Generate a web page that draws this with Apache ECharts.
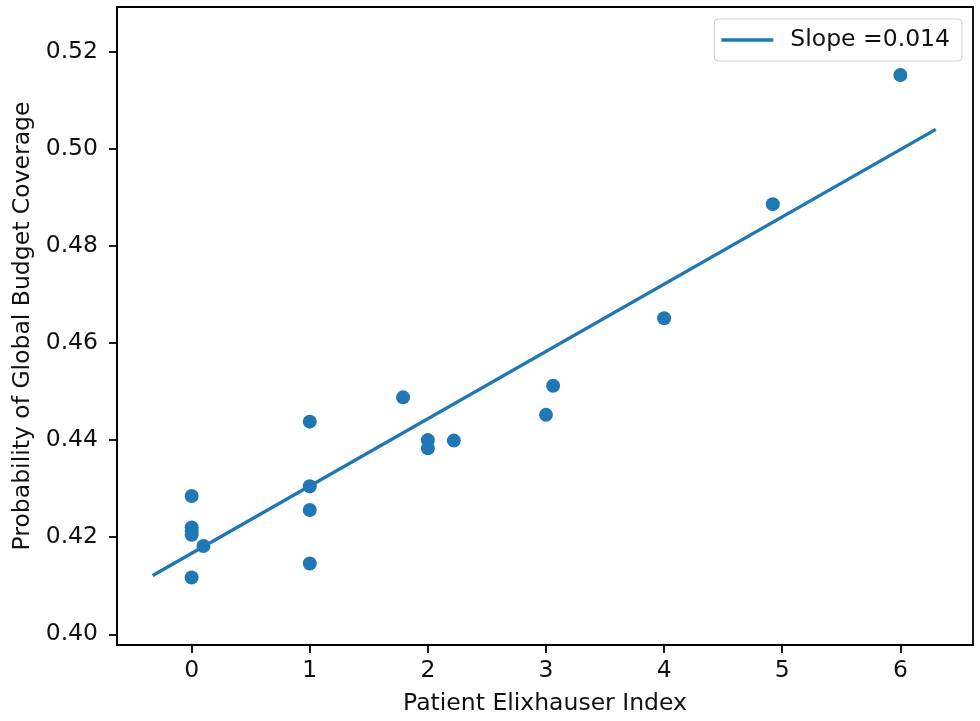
<!DOCTYPE html>
<html>
<head>
<meta charset="utf-8">
<script src="https://cdn.jsdelivr.net/npm/echarts@6/dist/echarts.min.js"></script>
<style>
html,body{margin:0;padding:0;background:#fff;}
#chart{width:980px;height:721px;}
</style>
</head>
<body>
<div id="chart"></div>
<script>
// Scatter points (Patient Elixhauser Index vs probability)
const pointX = [0, 0, 0, 0, 0.1, 0, 1, 1, 1, 1, 1.79, 2, 2, 2.22, 3, 3.06, 4, 4.92, 6];
const pointY = [0.4285, 0.4220, 0.4213, 0.4205, 0.4182, 0.4117, 0.4438, 0.4305, 0.4256, 0.4146, 0.4488, 0.4400, 0.4383, 0.4399, 0.4452, 0.4512, 0.4651, 0.4886, 0.5152];
// Fitted line endpoints
const fitX = [-0.33, 6.3];
const fitY = [0.4121, 0.5040];
const fitName = 'Slope =0.014';
// Tick labels
const xTicks = [0, 1, 2, 3, 4, 5, 6];
const yTicks = [0.40, 0.42, 0.44, 0.46, 0.48, 0.50, 0.52];
const xTitle = 'Patient Elixhauser Index';
const yTitle = 'Probability of Global Budget Coverage';

const FONT = 'DejaVu Sans';
const BLUE = '#1f77b4';
const FS = 23.5;

const chart = echarts.init(document.getElementById('chart'), null, {renderer: 'canvas'});
chart.setOption({
  animation: false,
  backgroundColor: '#fff',
  textStyle: {fontFamily: FONT},
  grid: {
    left: 117, right: 7, top: 7, bottom: 76,
    show: true, borderColor: '#000', borderWidth: 1.8, backgroundColor: 'transparent'
  },
  legend: {
    show: true,
    right: 18, top: 19,
    padding: [9, 12, 9, 7],
    itemWidth: 52, itemHeight: 3.4, itemGap: 10,
    icon: 'rect',
    borderColor: '#cccccc', borderWidth: 1, borderRadius: 4,
    backgroundColor: 'rgba(255,255,255,0.8)',
    textStyle: {fontFamily: FONT, fontSize: FS, color: '#111', padding: [0, 0, 0, 12]},
    data: [fitName]
  },
  xAxis: {
    type: 'value', min: -0.632, max: 6.615,
    name: xTitle, nameLocation: 'middle', nameGap: 47,
    nameTextStyle: {fontFamily: FONT, fontSize: FS, color: '#111'},
    axisLine: {show: true, onZero: false, lineStyle: {color: '#000', width: 1.8}},
    splitLine: {show: false},
    axisTick: {show: true, inside: false, length: 8, lineStyle: {color: '#000', width: 1.8}, customValues: xTicks},
    axisLabel: {fontFamily: FONT, fontSize: FS, color: '#111', margin: 14, customValues: xTicks,
      formatter: v => String(v)}
  },
  yAxis: {
    type: 'value', min: 0.3978, max: 0.5292,
    name: yTitle, nameLocation: 'middle', nameGap: 82, nameRotate: 90,
    nameTextStyle: {fontFamily: FONT, fontSize: FS, color: '#111'},
    axisLine: {show: true, onZero: false, lineStyle: {color: '#000', width: 1.8}},
    splitLine: {show: false},
    axisTick: {show: true, inside: false, length: 8, lineStyle: {color: '#000', width: 1.8}, customValues: yTicks},
    axisLabel: {fontFamily: FONT, fontSize: FS, color: '#111', margin: 19, customValues: yTicks,
      formatter: v => v.toFixed(2)}
  },
  series: [
    {
      type: 'scatter', name: 'points',
      data: pointX.map((x, i) => [x, pointY[i]]),
      symbol: 'circle', symbolSize: 14,
      itemStyle: {color: BLUE, opacity: 1},
      z: 3
    },
    {
      type: 'line', name: fitName,
      data: fitX.map((x, i) => [x, fitY[i]]),
      symbol: 'none', showSymbol: false,
      lineStyle: {color: BLUE, width: 3.4},
      itemStyle: {color: BLUE},
      z: 2
    }
  ]
});
</script>
</body>
</html>
